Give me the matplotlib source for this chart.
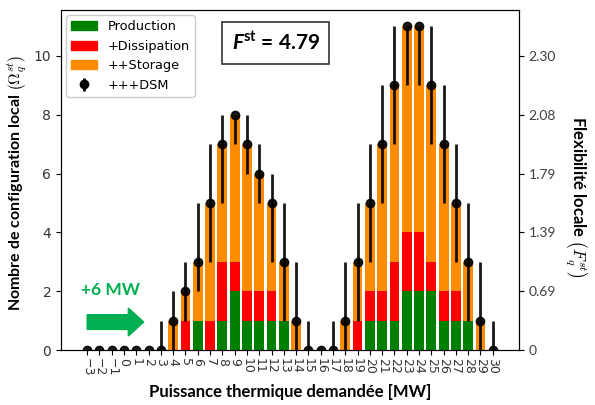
import numpy as np
import matplotlib
matplotlib.use("Agg")
import matplotlib.pyplot as plt
from matplotlib.patches import Patch

plt.rcParams['mathtext.bf'] = 'Lato:bold'
plt.rcParams['mathtext.bfit'] = 'Lato:italic:bold'
plt.rcParams['mathtext.rm'] = 'Lato'

# --- data ---
power = list(range(-3, 31))  # MW
production = [0, 0, 0, 0, 0, 0, 0, 0, 0, 1, 0, 1, 2, 1, 1, 1, 1, 0, 0, 0, 0, 0,
              0, 1, 1, 1, 2, 2, 2, 1, 1, 1, 0, 0]
dissipation = [0, 0, 0, 0, 0, 0, 0, 0, 1, 1, 1, 3, 3, 2, 2, 2, 1, 0, 0, 0, 0, 0,
               1, 2, 2, 3, 4, 4, 3, 2, 2, 1, 0, 0]
storage = [0, 0, 0, 0, 0, 0, 0, 1, 2, 3, 5, 7, 8, 7, 6, 5, 3, 1, 0, 0, 0, 1,
           3, 5, 7, 9, 11, 11, 9, 7, 5, 3, 1, 0]
dsm = [0, 0, 0, 0, 0, 0, 0, 1, 2, 3, 5, 7, 8, 7, 6, 5, 3, 1, 0, 0, 0, 1,
       3, 5, 7, 9, 11, 11, 9, 7, 5, 3, 1, 0]
dsm_low = [0, 0, 0, 0, 0, 0, 0, 0, 1, 2, 3, 5, 7, 6, 5, 3, 1, 0, 0, 0, 0, 0,
           1, 3, 5, 7, 9, 9, 7, 5, 3, 1, 0, 0]
dsm_high = [0, 0, 0, 0, 0, 0, 1, 2, 3, 5, 7, 8, 8, 8, 7, 6, 5, 3, 1, 0, 1, 3,
            5, 7, 9, 11, 11, 11, 11, 9, 7, 5, 3, 1]
right_ticks = [0, 2, 4, 6, 8, 10]
right_labels = ['0', '0.69', '1.39', '1.79', '2.08', '2.30']
f_st = 4.79

green = '#008000'
red = '#ff0000'
orange = '#ff8c00'
arrow_green = '#00b050'

fig = plt.figure(figsize=(5.95, 4.05), dpi=100)
ax = fig.add_axes([0.1025, 0.1358, 0.7697, 0.8395])

x = np.array(power)
ax.bar(x, storage, width=0.8, color=orange, zorder=2)
ax.bar(x, dissipation, width=0.8, color=red, zorder=3)
ax.bar(x, production, width=0.8, color=green, zorder=4)

val = np.array(dsm)
yerr = [val - np.array(dsm_low), np.array(dsm_high) - val]
ax.errorbar(x, val, yerr=yerr, fmt='o', color='black', ms=6, elinewidth=2,
            capsize=0, zorder=5, alpha=0.9)

ax.set_xlim(-5.13, 32.13)
ax.set_ylim(0, 11.56)
ax.set_xticks(x)
ax.set_xticklabels([str(p).replace('-', '\u2212') for p in power],
                   rotation=270, fontsize=9)
ax.set_yticks([0, 2, 4, 6, 8, 10])
ax.tick_params(axis='y', labelsize=10, labelcolor='#333333')
ax.tick_params(axis='x', labelcolor='#333333', pad=2)

ax.set_xlabel('Puissance thermique demandée [MW]', fontfamily='Lato',
              fontweight='bold', fontsize=12, labelpad=6)
ax.set_ylabel(r'Nombre de configuration local $\left(\Omega_q^{st}\right)$',
              fontfamily='Lato', fontweight='bold', fontsize=11.5,
              math_fontfamily='cm')
ax.yaxis.set_label_coords(-0.07, 0.49)

ax2 = ax.twinx()
ax2.set_ylim(ax.get_ylim())
ax2.set_yticks(right_ticks)
ax2.set_yticklabels(right_labels, fontfamily='Lato', fontsize=10, color='#404040')
ax2.set_ylabel(r'Flexibilité locale $\left(F_q^{st}\right)$', rotation=270,
               fontfamily='Lato', fontweight='bold', fontsize=12,
               math_fontfamily='cm')
ax2.yaxis.set_label_coords(1.15, 0.45)

# legend
handles = [Patch(color=green, label='Production'),
           Patch(color=red, label='+Dissipation'),
           Patch(color=orange, label='++Storage'),
           ax.errorbar([], [], yerr=[], fmt='o', color='black', ms=6,
                       elinewidth=2, label='+++DSM')]
ax.legend(handles=handles, loc='upper left', fontsize=9.3, framealpha=1,
          borderaxespad=0.4, handlelength=2.0)

# F^st box
ax.text(0.469, 0.903, r'$\mathbfit{F}^{\mathbf{st}}$ = ' + f'{f_st:.2f}',
        transform=ax.transAxes, ha='center', va='center', fontsize=15,
        fontfamily='Lato', fontweight='bold', math_fontfamily='custom',
        bbox=dict(boxstyle='square,pad=0.45', fc='white', ec='#333333', lw=1.2))

# +6 MW arrow
ax.arrow(-3, 0.95, 4.6, 0, width=0.5, head_width=0.95, head_length=1.25,
         length_includes_head=True, color=arrow_green, zorder=6)
ax.text(-1.1, 2.04, '+6 MW', color=arrow_green, fontfamily='Lato',
        fontweight='bold', fontsize=12.5, ha='center', va='center')

fig.savefig('out.png', dpi=100)
